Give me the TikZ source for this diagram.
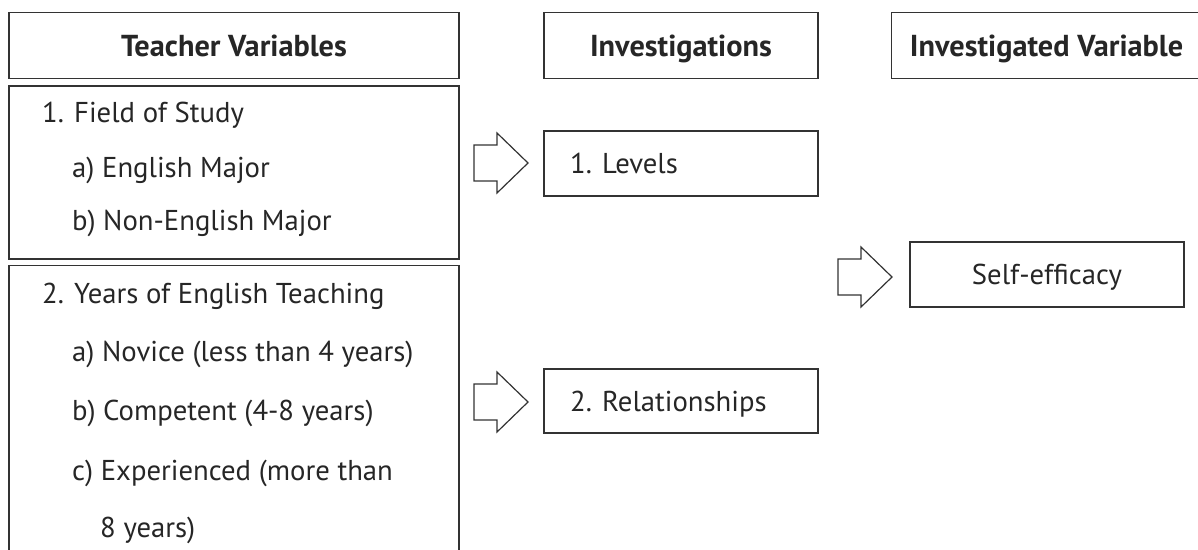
\documentclass[tikz,border=0pt]{standalone}
\usepackage{fontspec}
\setmainfont{PT Sans}
\begin{document}
\begin{tikzpicture}[x=1pt,y=-1pt,
  box/.style={draw=black!80,line width=1.2pt,inner sep=0pt},
  txt/.style={inner sep=0pt,text=black!85,font=\fontsize{28.7}{32}\selectfont},
  lbl/.style={txt,anchor=base west},
  hdr/.style={box,text=black!85,font=\bfseries\fontsize{30.3}{34}\selectfont,minimum height=66pt,text height=21pt,text depth=0pt},
  blockarrow/.style={draw=black!80,line width=1.2pt,fill=white,line join=miter},
  blockarr/.pic={\draw[blockarrow] (0,-18) -- (23,-18) -- (23,-30) -- (54,0) -- (23,30) -- (23,18) -- (0,18) -- cycle;}]
\useasboundingbox (0,0) rectangle (1198,549);
\clip (0,0) rectangle (1198,549);
% headers
\node[hdr,minimum width=450pt] (h1) at (234,45.5) {Teacher Variables};
\node[hdr,minimum width=274pt] (h2) at (681,45.5) {Investigations};
\node[hdr,minimum width=310pt,anchor=west] (h3) at (891,45.5) {Investigated Variable};
% left boxes
\node[box,minimum width=450pt,minimum height=173pt] (field) at (234,172.5) {};
\node[box,minimum width=450pt,minimum height=300pt,anchor=north] (years) at (234,265) {};
% left texts
\node[lbl] (f0) at (42,122) {1. Field of Study};
\node[lbl] (f1) at (72,177) {a) English Major};
\node[lbl] (f2) at (72,230) {b) Non-English Major};
\node[lbl] (y0) at (42,303) {2. Years of English Teaching};
\node[lbl] (y1) at (72,361) {a) Novice (less than 4 years)};
\node[lbl] (y2) at (72,420) {b) Competent (4-8 years)};
\node[lbl] (y3) at (72,480) {c) Experienced (more than};
\node[lbl] (y4) at (100,537) {8 years)};
% investigations
\node[box,minimum width=274pt,minimum height=65pt] (levels) at (681,163.5) {};
\node[lbl] (levelst) at (570,173) {1. Levels};
\node[box,minimum width=274pt,minimum height=64pt] (rel) at (681,401) {};
\node[lbl] (relt) at (570,411) {2. Relationships};
% investigated variable
\node[box,txt,minimum width=274pt,minimum height=65pt,text height=20pt,text depth=0pt] (self) at (1047,274.5) {Self-efficacy};
% block arrows
\pic at (474,163) {blockarr};
\pic at (474,402) {blockarr};
\pic at (838,277) {blockarr};
\end{tikzpicture}
\end{document}
